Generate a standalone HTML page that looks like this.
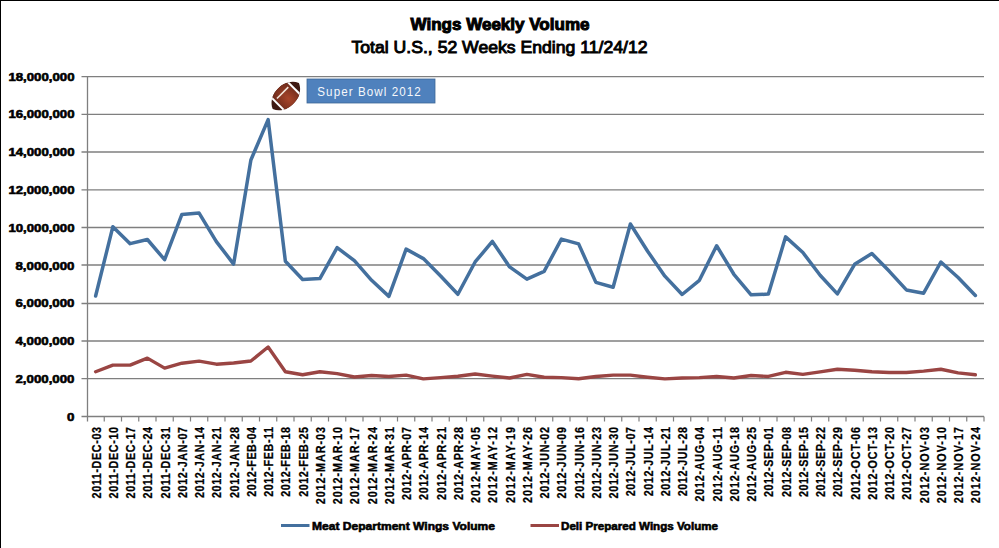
<!DOCTYPE html><html><head><meta charset="utf-8"><style>html,body{margin:0;padding:0;background:#fff;}svg{display:block;}text{font-family:"Liberation Sans",sans-serif;}</style></head><body>
<svg width="999" height="548" viewBox="0 0 999 548">
<rect x="0" y="0" width="999" height="548" fill="#fff"/>
<rect x="0" y="0" width="999" height="1" fill="#000"/>
<rect x="0" y="0" width="1" height="548" fill="#000"/>
<text x="500" y="29.5" text-anchor="middle" font-size="16.5" font-weight="bold" textLength="179" lengthAdjust="spacingAndGlyphs" fill="#000" stroke="#000" stroke-width="1.0">Wings Weekly Volume</text>
<text x="499.5" y="53.4" text-anchor="middle" font-size="16.5" textLength="296" lengthAdjust="spacingAndGlyphs" fill="#000" stroke="#000" stroke-width="0.9">Total U.S., 52 Weeks Ending 11/24/12</text>
<line x1="81.5" y1="378.70" x2="984.0" y2="378.70" stroke="#7f7f7f" stroke-width="1.3"/>
<line x1="81.5" y1="341.00" x2="984.0" y2="341.00" stroke="#7f7f7f" stroke-width="1.3"/>
<line x1="81.5" y1="303.50" x2="984.0" y2="303.50" stroke="#7f7f7f" stroke-width="1.3"/>
<line x1="81.5" y1="265.00" x2="984.0" y2="265.00" stroke="#7f7f7f" stroke-width="1.3"/>
<line x1="81.5" y1="227.50" x2="984.0" y2="227.50" stroke="#7f7f7f" stroke-width="1.3"/>
<line x1="81.5" y1="189.80" x2="984.0" y2="189.80" stroke="#7f7f7f" stroke-width="1.3"/>
<line x1="81.5" y1="152.00" x2="984.0" y2="152.00" stroke="#7f7f7f" stroke-width="1.3"/>
<line x1="81.5" y1="114.40" x2="984.0" y2="114.40" stroke="#7f7f7f" stroke-width="1.3"/>
<line x1="81.5" y1="76.60" x2="984.0" y2="76.60" stroke="#7f7f7f" stroke-width="1.3"/>
<line x1="87.5" y1="76.50" x2="87.5" y2="421.50" stroke="#7f7f7f" stroke-width="1.3"/>
<line x1="81.5" y1="416.50" x2="984.0" y2="416.50" stroke="#7f7f7f" stroke-width="1.3"/>
<line x1="104.25" y1="416.50" x2="104.25" y2="421.50" stroke="#7f7f7f" stroke-width="1.2"/>
<line x1="121.50" y1="416.50" x2="121.50" y2="421.50" stroke="#7f7f7f" stroke-width="1.2"/>
<line x1="138.75" y1="416.50" x2="138.75" y2="421.50" stroke="#7f7f7f" stroke-width="1.2"/>
<line x1="156.00" y1="416.50" x2="156.00" y2="421.50" stroke="#7f7f7f" stroke-width="1.2"/>
<line x1="173.25" y1="416.50" x2="173.25" y2="421.50" stroke="#7f7f7f" stroke-width="1.2"/>
<line x1="190.50" y1="416.50" x2="190.50" y2="421.50" stroke="#7f7f7f" stroke-width="1.2"/>
<line x1="207.75" y1="416.50" x2="207.75" y2="421.50" stroke="#7f7f7f" stroke-width="1.2"/>
<line x1="225.00" y1="416.50" x2="225.00" y2="421.50" stroke="#7f7f7f" stroke-width="1.2"/>
<line x1="242.25" y1="416.50" x2="242.25" y2="421.50" stroke="#7f7f7f" stroke-width="1.2"/>
<line x1="259.50" y1="416.50" x2="259.50" y2="421.50" stroke="#7f7f7f" stroke-width="1.2"/>
<line x1="276.75" y1="416.50" x2="276.75" y2="421.50" stroke="#7f7f7f" stroke-width="1.2"/>
<line x1="294.00" y1="416.50" x2="294.00" y2="421.50" stroke="#7f7f7f" stroke-width="1.2"/>
<line x1="311.25" y1="416.50" x2="311.25" y2="421.50" stroke="#7f7f7f" stroke-width="1.2"/>
<line x1="328.50" y1="416.50" x2="328.50" y2="421.50" stroke="#7f7f7f" stroke-width="1.2"/>
<line x1="345.75" y1="416.50" x2="345.75" y2="421.50" stroke="#7f7f7f" stroke-width="1.2"/>
<line x1="363.00" y1="416.50" x2="363.00" y2="421.50" stroke="#7f7f7f" stroke-width="1.2"/>
<line x1="380.25" y1="416.50" x2="380.25" y2="421.50" stroke="#7f7f7f" stroke-width="1.2"/>
<line x1="397.50" y1="416.50" x2="397.50" y2="421.50" stroke="#7f7f7f" stroke-width="1.2"/>
<line x1="414.75" y1="416.50" x2="414.75" y2="421.50" stroke="#7f7f7f" stroke-width="1.2"/>
<line x1="432.00" y1="416.50" x2="432.00" y2="421.50" stroke="#7f7f7f" stroke-width="1.2"/>
<line x1="449.25" y1="416.50" x2="449.25" y2="421.50" stroke="#7f7f7f" stroke-width="1.2"/>
<line x1="466.50" y1="416.50" x2="466.50" y2="421.50" stroke="#7f7f7f" stroke-width="1.2"/>
<line x1="483.75" y1="416.50" x2="483.75" y2="421.50" stroke="#7f7f7f" stroke-width="1.2"/>
<line x1="501.00" y1="416.50" x2="501.00" y2="421.50" stroke="#7f7f7f" stroke-width="1.2"/>
<line x1="518.25" y1="416.50" x2="518.25" y2="421.50" stroke="#7f7f7f" stroke-width="1.2"/>
<line x1="535.50" y1="416.50" x2="535.50" y2="421.50" stroke="#7f7f7f" stroke-width="1.2"/>
<line x1="552.75" y1="416.50" x2="552.75" y2="421.50" stroke="#7f7f7f" stroke-width="1.2"/>
<line x1="570.00" y1="416.50" x2="570.00" y2="421.50" stroke="#7f7f7f" stroke-width="1.2"/>
<line x1="587.25" y1="416.50" x2="587.25" y2="421.50" stroke="#7f7f7f" stroke-width="1.2"/>
<line x1="604.50" y1="416.50" x2="604.50" y2="421.50" stroke="#7f7f7f" stroke-width="1.2"/>
<line x1="621.75" y1="416.50" x2="621.75" y2="421.50" stroke="#7f7f7f" stroke-width="1.2"/>
<line x1="639.00" y1="416.50" x2="639.00" y2="421.50" stroke="#7f7f7f" stroke-width="1.2"/>
<line x1="656.25" y1="416.50" x2="656.25" y2="421.50" stroke="#7f7f7f" stroke-width="1.2"/>
<line x1="673.50" y1="416.50" x2="673.50" y2="421.50" stroke="#7f7f7f" stroke-width="1.2"/>
<line x1="690.75" y1="416.50" x2="690.75" y2="421.50" stroke="#7f7f7f" stroke-width="1.2"/>
<line x1="708.00" y1="416.50" x2="708.00" y2="421.50" stroke="#7f7f7f" stroke-width="1.2"/>
<line x1="725.25" y1="416.50" x2="725.25" y2="421.50" stroke="#7f7f7f" stroke-width="1.2"/>
<line x1="742.50" y1="416.50" x2="742.50" y2="421.50" stroke="#7f7f7f" stroke-width="1.2"/>
<line x1="759.75" y1="416.50" x2="759.75" y2="421.50" stroke="#7f7f7f" stroke-width="1.2"/>
<line x1="777.00" y1="416.50" x2="777.00" y2="421.50" stroke="#7f7f7f" stroke-width="1.2"/>
<line x1="794.25" y1="416.50" x2="794.25" y2="421.50" stroke="#7f7f7f" stroke-width="1.2"/>
<line x1="811.50" y1="416.50" x2="811.50" y2="421.50" stroke="#7f7f7f" stroke-width="1.2"/>
<line x1="828.75" y1="416.50" x2="828.75" y2="421.50" stroke="#7f7f7f" stroke-width="1.2"/>
<line x1="846.00" y1="416.50" x2="846.00" y2="421.50" stroke="#7f7f7f" stroke-width="1.2"/>
<line x1="863.25" y1="416.50" x2="863.25" y2="421.50" stroke="#7f7f7f" stroke-width="1.2"/>
<line x1="880.50" y1="416.50" x2="880.50" y2="421.50" stroke="#7f7f7f" stroke-width="1.2"/>
<line x1="897.75" y1="416.50" x2="897.75" y2="421.50" stroke="#7f7f7f" stroke-width="1.2"/>
<line x1="915.00" y1="416.50" x2="915.00" y2="421.50" stroke="#7f7f7f" stroke-width="1.2"/>
<line x1="932.25" y1="416.50" x2="932.25" y2="421.50" stroke="#7f7f7f" stroke-width="1.2"/>
<line x1="949.50" y1="416.50" x2="949.50" y2="421.50" stroke="#7f7f7f" stroke-width="1.2"/>
<line x1="966.75" y1="416.50" x2="966.75" y2="421.50" stroke="#7f7f7f" stroke-width="1.2"/>
<line x1="984.00" y1="416.50" x2="984.00" y2="421.50" stroke="#7f7f7f" stroke-width="1.2"/>
<text x="74.5" y="420.70" text-anchor="end" font-size="11.5" font-weight="bold" fill="#000" stroke="#000" stroke-width="0.6" textLength="7.4" lengthAdjust="spacingAndGlyphs">0</text>
<text x="74.5" y="382.92" text-anchor="end" font-size="11.5" font-weight="bold" fill="#000" stroke="#000" stroke-width="0.6" textLength="59.0" lengthAdjust="spacingAndGlyphs">2,000,000</text>
<text x="74.5" y="345.14" text-anchor="end" font-size="11.5" font-weight="bold" fill="#000" stroke="#000" stroke-width="0.6" textLength="59.0" lengthAdjust="spacingAndGlyphs">4,000,000</text>
<text x="74.5" y="307.37" text-anchor="end" font-size="11.5" font-weight="bold" fill="#000" stroke="#000" stroke-width="0.6" textLength="59.0" lengthAdjust="spacingAndGlyphs">6,000,000</text>
<text x="74.5" y="269.59" text-anchor="end" font-size="11.5" font-weight="bold" fill="#000" stroke="#000" stroke-width="0.6" textLength="59.0" lengthAdjust="spacingAndGlyphs">8,000,000</text>
<text x="74.5" y="231.81" text-anchor="end" font-size="11.5" font-weight="bold" fill="#000" stroke="#000" stroke-width="0.6" textLength="66.1" lengthAdjust="spacingAndGlyphs">10,000,000</text>
<text x="74.5" y="194.03" text-anchor="end" font-size="11.5" font-weight="bold" fill="#000" stroke="#000" stroke-width="0.6" textLength="66.1" lengthAdjust="spacingAndGlyphs">12,000,000</text>
<text x="74.5" y="156.26" text-anchor="end" font-size="11.5" font-weight="bold" fill="#000" stroke="#000" stroke-width="0.6" textLength="66.1" lengthAdjust="spacingAndGlyphs">14,000,000</text>
<text x="74.5" y="118.48" text-anchor="end" font-size="11.5" font-weight="bold" fill="#000" stroke="#000" stroke-width="0.6" textLength="66.1" lengthAdjust="spacingAndGlyphs">16,000,000</text>
<text x="74.5" y="80.70" text-anchor="end" font-size="11.5" font-weight="bold" fill="#000" stroke="#000" stroke-width="0.6" textLength="66.1" lengthAdjust="spacingAndGlyphs">18,000,000</text>
<text transform="translate(100.62,427) rotate(-90) scale(0.86,1)" text-anchor="end" font-size="12.5" font-weight="bold" fill="#000" stroke="#000" stroke-width="0.25" textLength="83.1" lengthAdjust="spacing">2011-DEC-03</text>
<text transform="translate(117.88,427) rotate(-90) scale(0.86,1)" text-anchor="end" font-size="12.5" font-weight="bold" fill="#000" stroke="#000" stroke-width="0.25" textLength="83.1" lengthAdjust="spacing">2011-DEC-10</text>
<text transform="translate(135.12,427) rotate(-90) scale(0.86,1)" text-anchor="end" font-size="12.5" font-weight="bold" fill="#000" stroke="#000" stroke-width="0.25" textLength="83.1" lengthAdjust="spacing">2011-DEC-17</text>
<text transform="translate(152.38,427) rotate(-90) scale(0.86,1)" text-anchor="end" font-size="12.5" font-weight="bold" fill="#000" stroke="#000" stroke-width="0.25" textLength="83.1" lengthAdjust="spacing">2011-DEC-24</text>
<text transform="translate(169.62,427) rotate(-90) scale(0.86,1)" text-anchor="end" font-size="12.5" font-weight="bold" fill="#000" stroke="#000" stroke-width="0.25" textLength="83.1" lengthAdjust="spacing">2011-DEC-31</text>
<text transform="translate(186.88,427) rotate(-90) scale(0.86,1)" text-anchor="end" font-size="12.5" font-weight="bold" fill="#000" stroke="#000" stroke-width="0.25" textLength="82.6" lengthAdjust="spacing">2012-JAN-07</text>
<text transform="translate(204.12,427) rotate(-90) scale(0.86,1)" text-anchor="end" font-size="12.5" font-weight="bold" fill="#000" stroke="#000" stroke-width="0.25" textLength="82.6" lengthAdjust="spacing">2012-JAN-14</text>
<text transform="translate(221.38,427) rotate(-90) scale(0.86,1)" text-anchor="end" font-size="12.5" font-weight="bold" fill="#000" stroke="#000" stroke-width="0.25" textLength="82.6" lengthAdjust="spacing">2012-JAN-21</text>
<text transform="translate(238.62,427) rotate(-90) scale(0.86,1)" text-anchor="end" font-size="12.5" font-weight="bold" fill="#000" stroke="#000" stroke-width="0.25" textLength="82.6" lengthAdjust="spacing">2012-JAN-28</text>
<text transform="translate(255.88,427) rotate(-90) scale(0.86,1)" text-anchor="end" font-size="12.5" font-weight="bold" fill="#000" stroke="#000" stroke-width="0.25" textLength="81.2" lengthAdjust="spacing">2012-FEB-04</text>
<text transform="translate(273.12,427) rotate(-90) scale(0.86,1)" text-anchor="end" font-size="12.5" font-weight="bold" fill="#000" stroke="#000" stroke-width="0.25" textLength="81.2" lengthAdjust="spacing">2012-FEB-11</text>
<text transform="translate(290.38,427) rotate(-90) scale(0.86,1)" text-anchor="end" font-size="12.5" font-weight="bold" fill="#000" stroke="#000" stroke-width="0.25" textLength="81.2" lengthAdjust="spacing">2012-FEB-18</text>
<text transform="translate(307.62,427) rotate(-90) scale(0.86,1)" text-anchor="end" font-size="12.5" font-weight="bold" fill="#000" stroke="#000" stroke-width="0.25" textLength="81.2" lengthAdjust="spacing">2012-FEB-25</text>
<text transform="translate(324.88,427) rotate(-90) scale(0.86,1)" text-anchor="end" font-size="12.5" font-weight="bold" fill="#000" stroke="#000" stroke-width="0.25" textLength="89.9" lengthAdjust="spacing">2012-MAR-03</text>
<text transform="translate(342.12,427) rotate(-90) scale(0.86,1)" text-anchor="end" font-size="12.5" font-weight="bold" fill="#000" stroke="#000" stroke-width="0.25" textLength="89.9" lengthAdjust="spacing">2012-MAR-10</text>
<text transform="translate(359.38,427) rotate(-90) scale(0.86,1)" text-anchor="end" font-size="12.5" font-weight="bold" fill="#000" stroke="#000" stroke-width="0.25" textLength="89.9" lengthAdjust="spacing">2012-MAR-17</text>
<text transform="translate(376.62,427) rotate(-90) scale(0.86,1)" text-anchor="end" font-size="12.5" font-weight="bold" fill="#000" stroke="#000" stroke-width="0.25" textLength="89.9" lengthAdjust="spacing">2012-MAR-24</text>
<text transform="translate(393.88,427) rotate(-90) scale(0.86,1)" text-anchor="end" font-size="12.5" font-weight="bold" fill="#000" stroke="#000" stroke-width="0.25" textLength="89.9" lengthAdjust="spacing">2012-MAR-31</text>
<text transform="translate(411.12,427) rotate(-90) scale(0.86,1)" text-anchor="end" font-size="12.5" font-weight="bold" fill="#000" stroke="#000" stroke-width="0.25" textLength="84.9" lengthAdjust="spacing">2012-APR-07</text>
<text transform="translate(428.38,427) rotate(-90) scale(0.86,1)" text-anchor="end" font-size="12.5" font-weight="bold" fill="#000" stroke="#000" stroke-width="0.25" textLength="84.9" lengthAdjust="spacing">2012-APR-14</text>
<text transform="translate(445.62,427) rotate(-90) scale(0.86,1)" text-anchor="end" font-size="12.5" font-weight="bold" fill="#000" stroke="#000" stroke-width="0.25" textLength="84.9" lengthAdjust="spacing">2012-APR-21</text>
<text transform="translate(462.88,427) rotate(-90) scale(0.86,1)" text-anchor="end" font-size="12.5" font-weight="bold" fill="#000" stroke="#000" stroke-width="0.25" textLength="84.9" lengthAdjust="spacing">2012-APR-28</text>
<text transform="translate(480.12,427) rotate(-90) scale(0.86,1)" text-anchor="end" font-size="12.5" font-weight="bold" fill="#000" stroke="#000" stroke-width="0.25" textLength="88.4" lengthAdjust="spacing">2012-MAY-05</text>
<text transform="translate(497.38,427) rotate(-90) scale(0.86,1)" text-anchor="end" font-size="12.5" font-weight="bold" fill="#000" stroke="#000" stroke-width="0.25" textLength="88.4" lengthAdjust="spacing">2012-MAY-12</text>
<text transform="translate(514.62,427) rotate(-90) scale(0.86,1)" text-anchor="end" font-size="12.5" font-weight="bold" fill="#000" stroke="#000" stroke-width="0.25" textLength="88.4" lengthAdjust="spacing">2012-MAY-19</text>
<text transform="translate(531.88,427) rotate(-90) scale(0.86,1)" text-anchor="end" font-size="12.5" font-weight="bold" fill="#000" stroke="#000" stroke-width="0.25" textLength="88.4" lengthAdjust="spacing">2012-MAY-26</text>
<text transform="translate(549.12,427) rotate(-90) scale(0.86,1)" text-anchor="end" font-size="12.5" font-weight="bold" fill="#000" stroke="#000" stroke-width="0.25" textLength="83.1" lengthAdjust="spacing">2012-JUN-02</text>
<text transform="translate(566.38,427) rotate(-90) scale(0.86,1)" text-anchor="end" font-size="12.5" font-weight="bold" fill="#000" stroke="#000" stroke-width="0.25" textLength="83.1" lengthAdjust="spacing">2012-JUN-09</text>
<text transform="translate(583.62,427) rotate(-90) scale(0.86,1)" text-anchor="end" font-size="12.5" font-weight="bold" fill="#000" stroke="#000" stroke-width="0.25" textLength="83.1" lengthAdjust="spacing">2012-JUN-16</text>
<text transform="translate(600.88,427) rotate(-90) scale(0.86,1)" text-anchor="end" font-size="12.5" font-weight="bold" fill="#000" stroke="#000" stroke-width="0.25" textLength="83.1" lengthAdjust="spacing">2012-JUN-23</text>
<text transform="translate(618.12,427) rotate(-90) scale(0.86,1)" text-anchor="end" font-size="12.5" font-weight="bold" fill="#000" stroke="#000" stroke-width="0.25" textLength="83.1" lengthAdjust="spacing">2012-JUN-30</text>
<text transform="translate(635.38,427) rotate(-90) scale(0.86,1)" text-anchor="end" font-size="12.5" font-weight="bold" fill="#000" stroke="#000" stroke-width="0.25" textLength="80.6" lengthAdjust="spacing">2012-JUL-07</text>
<text transform="translate(652.62,427) rotate(-90) scale(0.86,1)" text-anchor="end" font-size="12.5" font-weight="bold" fill="#000" stroke="#000" stroke-width="0.25" textLength="80.6" lengthAdjust="spacing">2012-JUL-14</text>
<text transform="translate(669.88,427) rotate(-90) scale(0.86,1)" text-anchor="end" font-size="12.5" font-weight="bold" fill="#000" stroke="#000" stroke-width="0.25" textLength="80.6" lengthAdjust="spacing">2012-JUL-21</text>
<text transform="translate(687.12,427) rotate(-90) scale(0.86,1)" text-anchor="end" font-size="12.5" font-weight="bold" fill="#000" stroke="#000" stroke-width="0.25" textLength="80.6" lengthAdjust="spacing">2012-JUL-28</text>
<text transform="translate(704.38,427) rotate(-90) scale(0.86,1)" text-anchor="end" font-size="12.5" font-weight="bold" fill="#000" stroke="#000" stroke-width="0.25" textLength="86.6" lengthAdjust="spacing">2012-AUG-04</text>
<text transform="translate(721.62,427) rotate(-90) scale(0.86,1)" text-anchor="end" font-size="12.5" font-weight="bold" fill="#000" stroke="#000" stroke-width="0.25" textLength="86.6" lengthAdjust="spacing">2012-AUG-11</text>
<text transform="translate(738.88,427) rotate(-90) scale(0.86,1)" text-anchor="end" font-size="12.5" font-weight="bold" fill="#000" stroke="#000" stroke-width="0.25" textLength="86.6" lengthAdjust="spacing">2012-AUG-18</text>
<text transform="translate(756.12,427) rotate(-90) scale(0.86,1)" text-anchor="end" font-size="12.5" font-weight="bold" fill="#000" stroke="#000" stroke-width="0.25" textLength="86.6" lengthAdjust="spacing">2012-AUG-25</text>
<text transform="translate(773.38,427) rotate(-90) scale(0.86,1)" text-anchor="end" font-size="12.5" font-weight="bold" fill="#000" stroke="#000" stroke-width="0.25" textLength="81.4" lengthAdjust="spacing">2012-SEP-01</text>
<text transform="translate(790.62,427) rotate(-90) scale(0.86,1)" text-anchor="end" font-size="12.5" font-weight="bold" fill="#000" stroke="#000" stroke-width="0.25" textLength="81.4" lengthAdjust="spacing">2012-SEP-08</text>
<text transform="translate(807.88,427) rotate(-90) scale(0.86,1)" text-anchor="end" font-size="12.5" font-weight="bold" fill="#000" stroke="#000" stroke-width="0.25" textLength="81.4" lengthAdjust="spacing">2012-SEP-15</text>
<text transform="translate(825.12,427) rotate(-90) scale(0.86,1)" text-anchor="end" font-size="12.5" font-weight="bold" fill="#000" stroke="#000" stroke-width="0.25" textLength="81.4" lengthAdjust="spacing">2012-SEP-22</text>
<text transform="translate(842.38,427) rotate(-90) scale(0.86,1)" text-anchor="end" font-size="12.5" font-weight="bold" fill="#000" stroke="#000" stroke-width="0.25" textLength="81.4" lengthAdjust="spacing">2012-SEP-29</text>
<text transform="translate(859.62,427) rotate(-90) scale(0.86,1)" text-anchor="end" font-size="12.5" font-weight="bold" fill="#000" stroke="#000" stroke-width="0.25" textLength="84.5" lengthAdjust="spacing">2012-OCT-06</text>
<text transform="translate(876.88,427) rotate(-90) scale(0.86,1)" text-anchor="end" font-size="12.5" font-weight="bold" fill="#000" stroke="#000" stroke-width="0.25" textLength="84.5" lengthAdjust="spacing">2012-OCT-13</text>
<text transform="translate(894.12,427) rotate(-90) scale(0.86,1)" text-anchor="end" font-size="12.5" font-weight="bold" fill="#000" stroke="#000" stroke-width="0.25" textLength="84.5" lengthAdjust="spacing">2012-OCT-20</text>
<text transform="translate(911.38,427) rotate(-90) scale(0.86,1)" text-anchor="end" font-size="12.5" font-weight="bold" fill="#000" stroke="#000" stroke-width="0.25" textLength="84.5" lengthAdjust="spacing">2012-OCT-27</text>
<text transform="translate(928.62,427) rotate(-90) scale(0.86,1)" text-anchor="end" font-size="12.5" font-weight="bold" fill="#000" stroke="#000" stroke-width="0.25" textLength="88.7" lengthAdjust="spacing">2012-NOV-03</text>
<text transform="translate(945.88,427) rotate(-90) scale(0.86,1)" text-anchor="end" font-size="12.5" font-weight="bold" fill="#000" stroke="#000" stroke-width="0.25" textLength="88.7" lengthAdjust="spacing">2012-NOV-10</text>
<text transform="translate(963.12,427) rotate(-90) scale(0.86,1)" text-anchor="end" font-size="12.5" font-weight="bold" fill="#000" stroke="#000" stroke-width="0.25" textLength="88.7" lengthAdjust="spacing">2012-NOV-17</text>
<text transform="translate(980.38,427) rotate(-90) scale(0.86,1)" text-anchor="end" font-size="12.5" font-weight="bold" fill="#000" stroke="#000" stroke-width="0.25" textLength="88.7" lengthAdjust="spacing">2012-NOV-24</text>
<path d="M95.62,371.73 L112.88,365.12 L130.12,365.12 L147.38,358.13 L164.62,368.14 L181.88,363.23 L199.12,361.16 L216.38,364.18 L233.62,363.04 L250.88,360.97 L268.12,346.99 L285.38,371.73 L302.62,374.76 L319.88,371.73 L337.12,373.62 L354.38,377.02 L371.62,375.51 L388.88,376.46 L406.12,375.13 L423.38,378.91 L440.62,377.59 L457.88,376.27 L475.12,374.00 L492.38,376.08 L509.62,377.97 L526.88,374.38 L544.12,377.21 L561.38,377.59 L578.62,378.72 L595.88,376.46 L613.12,375.13 L630.38,375.13 L647.62,377.21 L664.88,378.91 L682.12,377.97 L699.38,377.59 L716.62,376.46 L733.88,377.97 L751.12,375.51 L768.38,376.46 L785.62,372.30 L802.88,374.38 L820.12,371.92 L837.38,369.28 L854.62,370.22 L871.88,371.73 L889.12,372.49 L906.38,372.49 L923.62,371.17 L940.88,369.28 L958.12,372.87 L975.38,374.76" fill="none" stroke="#9a4543" stroke-width="3.4" stroke-linejoin="round" stroke-linecap="round"/>
<path d="M95.62,295.99 L112.88,226.67 L130.12,243.67 L147.38,239.51 L164.62,259.72 L181.88,214.39 L199.12,213.07 L216.38,241.59 L233.62,264.07 L250.88,159.99 L268.12,119.57 L285.38,261.23 L302.62,279.56 L319.88,278.61 L337.12,247.63 L354.38,260.67 L371.62,280.31 L388.88,296.37 L406.12,249.14 L423.38,258.59 L440.62,275.97 L457.88,294.29 L475.12,261.99 L492.38,241.40 L509.62,266.90 L526.88,279.18 L544.12,271.43 L561.38,239.13 L578.62,243.86 L595.88,282.39 L613.12,287.30 L630.38,224.02 L647.62,251.22 L664.88,276.16 L682.12,294.48 L699.38,280.31 L716.62,245.74 L733.88,274.27 L751.12,294.86 L768.38,294.10 L785.62,236.87 L802.88,252.54 L820.12,275.21 L837.38,293.91 L854.62,264.26 L871.88,253.49 L889.12,271.06 L906.38,289.94 L923.62,293.16 L940.88,261.99 L958.12,277.48 L975.38,295.42" fill="none" stroke="#44709e" stroke-width="3.5" stroke-linejoin="round" stroke-linecap="round"/>
<rect x="307" y="79" width="128" height="24" fill="#4f81bd" stroke="#3c6696" stroke-width="0.8"/>
<text transform="translate(317.3,96) scale(0.88,1)" x="0" y="0" font-size="13.2" fill="#f6f8fb" textLength="117.6" lengthAdjust="spacing">Super Bowl 2012</text>
<defs><clipPath id="fb"><path d="M-18.5,0 C-12.5,-14.5 12.5,-14.5 18.5,0 C12.5,14.5 -12.5,14.5 -18.5,0 Z"/></clipPath><radialGradient id="fg" cx="0.5" cy="0.62" r="0.6"><stop offset="0" stop-color="#a8452a"/><stop offset="1" stop-color="#6e2c1c"/></radialGradient></defs>
<g transform="translate(285.8,96) rotate(-45)"><g clip-path="url(#fb)"><rect x="-20" y="-16" width="40" height="32" fill="#3f1a12"/><rect x="-10.5" y="-16" width="21" height="32" fill="url(#fg)"/><rect x="-12.3" y="-16" width="2" height="32" fill="#fff"/><rect x="10.3" y="-16" width="2" height="32" fill="#fff"/></g><line x1="-8" y1="-4.5" x2="8" y2="-4.5" stroke="#f3e6da" stroke-width="1.6"/></g>
<line x1="281" y1="525.5" x2="309.5" y2="525.5" stroke="#44709e" stroke-width="3"/>
<text x="312" y="529.5" font-size="11" font-weight="bold" textLength="183" lengthAdjust="spacingAndGlyphs" fill="#000" stroke="#000" stroke-width="0.6">Meat Department Wings Volume</text>
<line x1="530.5" y1="525.5" x2="559" y2="525.5" stroke="#9a4543" stroke-width="3"/>
<text x="561" y="529.5" font-size="11" font-weight="bold" textLength="157" lengthAdjust="spacingAndGlyphs" fill="#000" stroke="#000" stroke-width="0.6">Deli Prepared Wings Volume</text>
</svg></body></html>
